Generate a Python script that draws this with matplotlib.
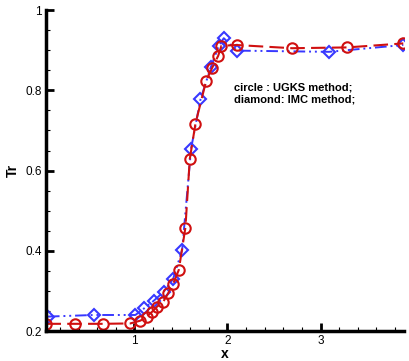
import matplotlib.pyplot as plt
from matplotlib.ticker import MultipleLocator, FormatStrFormatter

# UGKS (circles)
ugks_x = [0.054, 0.366, 0.667, 0.957, 1.065, 1.13, 1.19, 1.244, 1.31, 1.362, 1.416,
          1.477, 1.548, 1.595, 1.656, 1.77, 1.835, 1.90, 1.935, 2.097, 2.696, 3.287, 3.889]
ugks_y = [0.218, 0.218, 0.218, 0.219, 0.226, 0.236, 0.248, 0.261, 0.273, 0.294, 0.3175,
          0.3525, 0.458, 0.629, 0.717, 0.823, 0.856, 0.886, 0.911, 0.913, 0.905, 0.907, 0.917]

# IMC (diamonds)
imc_x = [0.07, 0.5625, 1.01, 1.107, 1.21, 1.315, 1.416, 1.513, 1.609, 1.71, 1.82,
         1.906, 1.96, 2.10, 3.09, 3.889]
imc_y = [0.236, 0.24, 0.24, 0.257, 0.276, 0.298, 0.33, 0.4025, 0.655, 0.7775, 0.857,
         0.911, 0.93, 0.899, 0.896, 0.913]

plt.rcParams['font.family'] = ['Liberation Sans', 'DejaVu Sans']

fig = plt.figure(figsize=(4.09, 3.61), dpi=100)
ax = fig.add_axes([0.1125, 0.083, 0.876, 0.889])

ax.plot(imc_x, imc_y, color='#3838ff', linestyle=(0, (6, 2, 1, 2, 1, 2)), linewidth=1.4,
        marker='D', markersize=6, markerfacecolor='none', markeredgewidth=1.5)
ax.plot(ugks_x, ugks_y, color='#d01010', linestyle=(0, (7, 3)), linewidth=1.5,
        marker='o', markersize=7.5, markerfacecolor='none', markeredgewidth=1.5)

ax.set_xlim(0.05, 3.9)
ax.set_ylim(0.2, 1.0)

ax.spines['top'].set_visible(False)
ax.spines['right'].set_visible(False)
ax.spines['left'].set_linewidth(2.5)
ax.spines['bottom'].set_linewidth(2.5)

ax.xaxis.set_major_locator(MultipleLocator(1))
ax.xaxis.set_minor_locator(MultipleLocator(0.2))
ax.yaxis.set_major_locator(MultipleLocator(0.2))
ax.yaxis.set_minor_locator(MultipleLocator(0.05))
ax.yaxis.set_major_formatter(FormatStrFormatter('%g'))
ax.xaxis.set_major_formatter(FormatStrFormatter('%g'))

ax.tick_params(which='major', direction='in', length=6, width=2, labelsize=8.5, pad=3)
ax.tick_params(which='minor', direction='in', length=3, width=0.8)

ax.set_xlabel('x', fontsize=10, fontweight='bold', labelpad=0)
ax.set_ylabel('Tr', fontsize=10, fontweight='bold', labelpad=4)

ax.text(2.07, 0.80, 'circle : UGKS method;', fontsize=8, fontweight='bold')
ax.text(2.07, 0.77, 'diamond: IMC method;', fontsize=8, fontweight='bold')

plt.savefig('out.png', dpi=100)
